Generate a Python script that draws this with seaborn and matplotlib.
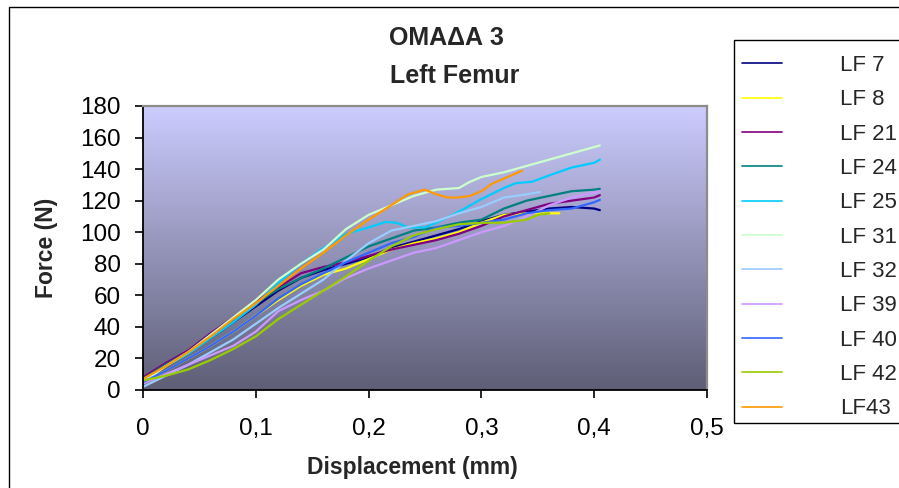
import numpy as np
import pandas as pd
import matplotlib
matplotlib.use("Agg")
import matplotlib.pyplot as plt
from matplotlib.patches import Rectangle
from matplotlib.lines import Line2D
import seaborn as sns

# ---- data: displacement (mm) vs force (N) for each specimen ----
series_names = ["LF 7", "LF 8", "LF 21", "LF 24", "LF 25", "LF 31",
                "LF 32", "LF 39", "LF 40", "LF 42", "LF43"]
series_colors = ["#000080", "#FFFF00", "#800080", "#008080", "#00CCFF", "#CCFFCC",
                 "#99CCFF", "#CC99FF", "#3366FF", "#99CC00", "#FF9900"]

lf7_x = [0, 0.02, 0.04, 0.06, 0.08, 0.10, 0.12, 0.14, 0.16, 0.18, 0.20, 0.22,
         0.24, 0.26, 0.28, 0.30, 0.32, 0.34, 0.36, 0.38, 0.40, 0.405]
lf7_y = [6, 15, 24, 33, 43, 53, 63, 71, 76, 80, 84, 90,
         94, 98, 102, 107, 111, 113, 115, 116, 115, 114]

lf8_x = [0, 0.02, 0.04, 0.06, 0.08, 0.10, 0.12, 0.14, 0.16, 0.18, 0.20, 0.22,
         0.24, 0.26, 0.28, 0.30, 0.32, 0.34, 0.36, 0.369]
lf8_y = [5, 12, 20, 28, 37, 47, 57, 66, 73, 77, 83, 89,
         93, 96, 100, 106, 111, 112, 112, 112]

lf21_x = [0, 0.02, 0.04, 0.06, 0.08, 0.10, 0.12, 0.14, 0.16, 0.18, 0.20, 0.22,
          0.24, 0.26, 0.28, 0.30, 0.32, 0.34, 0.36, 0.38, 0.40, 0.405]
lf21_y = [8, 17, 25, 36, 46, 56, 65, 74, 78, 81, 85, 89,
          92, 95, 99, 104, 110, 114, 118, 120, 122, 123.5]

lf24_x = [0, 0.02, 0.04, 0.06, 0.08, 0.10, 0.12, 0.14, 0.16, 0.18, 0.20, 0.22,
          0.24, 0.26, 0.28, 0.30, 0.32, 0.34, 0.36, 0.38, 0.40, 0.405]
lf24_y = [7, 16, 24, 35, 45, 55, 64, 71, 77, 84, 91, 96,
          101, 103, 106, 108, 115, 120, 123, 126, 127, 127.5]

lf25_x = [0, 0.02, 0.04, 0.06, 0.08, 0.10, 0.12, 0.14, 0.16, 0.18, 0.20, 0.215,
          0.225, 0.235, 0.25, 0.26, 0.28, 0.30, 0.32, 0.33, 0.345, 0.36, 0.38, 0.40, 0.405]
lf25_y = [6, 15, 23, 33, 43, 54, 68, 80, 90, 99, 103, 106.5,
          106, 103, 103, 106, 113, 121, 128, 131, 132, 136, 141, 144, 146]

lf31_x = [0, 0.02, 0.04, 0.06, 0.08, 0.10, 0.12, 0.14, 0.16, 0.18, 0.20, 0.22,
          0.24, 0.26, 0.28, 0.29, 0.30, 0.32, 0.34, 0.36, 0.38, 0.40, 0.405]
lf31_y = [5, 15, 24, 35, 46, 57, 70, 80, 89, 102, 111, 117,
          123, 127, 128, 132, 135, 138, 142, 146, 150, 154, 155]

lf32_x = [0, 0.02, 0.04, 0.06, 0.08, 0.10, 0.12, 0.14, 0.16, 0.18, 0.20, 0.22,
          0.24, 0.26, 0.28, 0.30, 0.32, 0.34, 0.352]
lf32_y = [2, 9, 16, 24, 32, 42, 52, 61, 70, 82, 93, 101,
          104, 107, 112, 116, 122, 124, 125.5]

lf39_x = [0, 0.02, 0.04, 0.06, 0.08, 0.10, 0.12, 0.14, 0.16, 0.18, 0.20, 0.22,
          0.24, 0.26, 0.28, 0.30, 0.32, 0.34, 0.36, 0.38, 0.40, 0.405]
lf39_y = [4, 10, 16, 22, 28, 37, 50, 57, 63, 71, 77, 82,
          87, 90, 95, 100, 104, 110, 117, 122, 125, 126]

lf40_x = [0, 0.02, 0.04, 0.06, 0.08, 0.10, 0.12, 0.14, 0.16, 0.18, 0.20, 0.22,
          0.24, 0.26, 0.28, 0.30, 0.32, 0.34, 0.36, 0.38, 0.40, 0.405]
lf40_y = [5, 12, 20, 28, 37, 47, 58, 67, 74, 81, 87, 93,
          97, 103, 104, 106, 108, 112, 114, 115, 119, 120.5]

lf42_x = [0, 0.02, 0.04, 0.06, 0.08, 0.10, 0.12, 0.14, 0.16, 0.18, 0.20, 0.22,
          0.24, 0.26, 0.28, 0.30, 0.32, 0.34, 0.35, 0.36]
lf42_y = [6, 9, 13, 19, 26, 34, 45, 54, 63, 72, 82, 91,
          98, 102, 105, 106, 106, 108, 111, 112]

lf43_x = [0, 0.02, 0.04, 0.06, 0.08, 0.10, 0.12, 0.14, 0.16, 0.18, 0.20, 0.22,
          0.235, 0.25, 0.26, 0.27, 0.28, 0.29, 0.30, 0.31, 0.32, 0.336]
lf43_y = [7, 15, 24, 34, 45, 55, 66, 77, 87, 98, 108, 117,
          124, 127, 124, 122, 122, 123, 126, 131, 134, 139]

x_ticks = [0, 0.1, 0.2, 0.3, 0.4, 0.5]
x_tick_labels = ["0", "0,1", "0,2", "0,3", "0,4", "0,5"]
y_ticks = [0, 20, 40, 60, 80, 100, 120, 140, 160, 180]

all_x = [lf7_x, lf8_x, lf21_x, lf24_x, lf25_x, lf31_x, lf32_x, lf39_x, lf40_x, lf42_x, lf43_x]
all_y = [lf7_y, lf8_y, lf21_y, lf24_y, lf25_y, lf31_y, lf32_y, lf39_y, lf40_y, lf42_y, lf43_y]

frames = []
for name, xs, ys in zip(series_names, all_x, all_y):
    frames.append(pd.DataFrame({"Specimen": name, "Displacement": xs, "Force": ys}))
df = pd.concat(frames, ignore_index=True)

# ---- styling ----
sns.set_style("white")
plt.rcParams["font.family"] = ["Liberation Sans", "DejaVu Sans"]

W, H = 899, 488
fig = plt.figure(figsize=(W / 100, H / 100), dpi=100)
fig.patch.set_facecolor("white")

# plot area in pixel terms
left, right, top, bottom = 143, 707, 106, 390
ax = fig.add_axes([left / W, 1 - bottom / H, (right - left) / W, (bottom - top) / H])

# vertical gradient fill of the plot area
top_c = np.array([204, 204, 255]) / 255
bot_c = np.array([94, 94, 118]) / 255
t = np.linspace(0, 1, 256)[:, None]
grad = (top_c * (1 - t) + bot_c * t)[:, None, :]
ax.imshow(grad, extent=[0, 0.5, 0, 180], aspect="auto", origin="upper", zorder=0)

palette = dict(zip(series_names, series_colors))
sns.lineplot(data=df, x="Displacement", y="Force", hue="Specimen", hue_order=series_names,
             palette=palette, sort=False, estimator=None, units="Specimen",
             linewidth=1.6, legend=False, ax=ax, zorder=2)

ax.set_xlim(0, 0.5)
ax.set_ylim(0, 180)
ax.set_xticks(x_ticks)
ax.set_xticklabels(x_tick_labels)
ax.set_yticks(y_ticks)
ax.tick_params(axis="both", direction="out", length=6, width=1.2, color="black",
               labelsize=17.5, labelcolor="black")
ax.tick_params(axis="x", pad=14)
ax.tick_params(axis="y", pad=10)
ax.xaxis.set_ticks_position("bottom")
ax.yaxis.set_ticks_position("left")

for side in ["left", "bottom"]:
    ax.spines[side].set_color("black")
    ax.spines[side].set_linewidth(1.3)
for side in ["top", "right"]:
    ax.spines[side].set_visible(True)
    ax.spines[side].set_color("#8c8c8c")
    ax.spines[side].set_linewidth(1.6)

ax.set_xlabel("Displacement (mm)", fontsize=16.5, fontweight="bold")
ax.set_ylabel("Force (N)", fontsize=16.5, fontweight="bold")
ax.xaxis.set_label_coords((412 - left) / (right - left), -(456 - bottom) / (bottom - top))
ax.yaxis.set_label_coords(-(left - 58) / (right - left), 0.5)

# two-line chart title
fig.text(446 / W, 1 - 38 / H, "ΟΜΑΔΑ 3", ha="center", va="center",
         fontsize=18, fontweight="bold")
fig.text(455 / W, 1 - 76 / H, "Left Femur", ha="center", va="center",
         fontsize=18, fontweight="bold")

# legend with its own frame
handles = [Line2D([], [], color=c, lw=1.2) for c in series_colors]
leg = ax.legend(handles, series_names, loc="upper left",
                bbox_to_anchor=(742 / W, 1 - 55 / H), bbox_transform=fig.transFigure,
                frameon=False, borderpad=0, borderaxespad=0, handlelength=1.8,
                handletextpad=2.6, labelspacing=0.6, fontsize=16)
fig.add_artist(Rectangle((734 / W, 1 - 423 / H), 0.5, (423 - 40) / H,
                         transform=fig.transFigure, fill=False,
                         edgecolor="black", linewidth=1.0))

# outer chart border
fig.add_artist(Rectangle((9 / W, -0.1), 1.0, 1 - 7 / H + 0.1,
                         transform=fig.transFigure, fill=False,
                         edgecolor="black", linewidth=1.0))

fig.savefig("out.png", dpi=100, facecolor="white")
